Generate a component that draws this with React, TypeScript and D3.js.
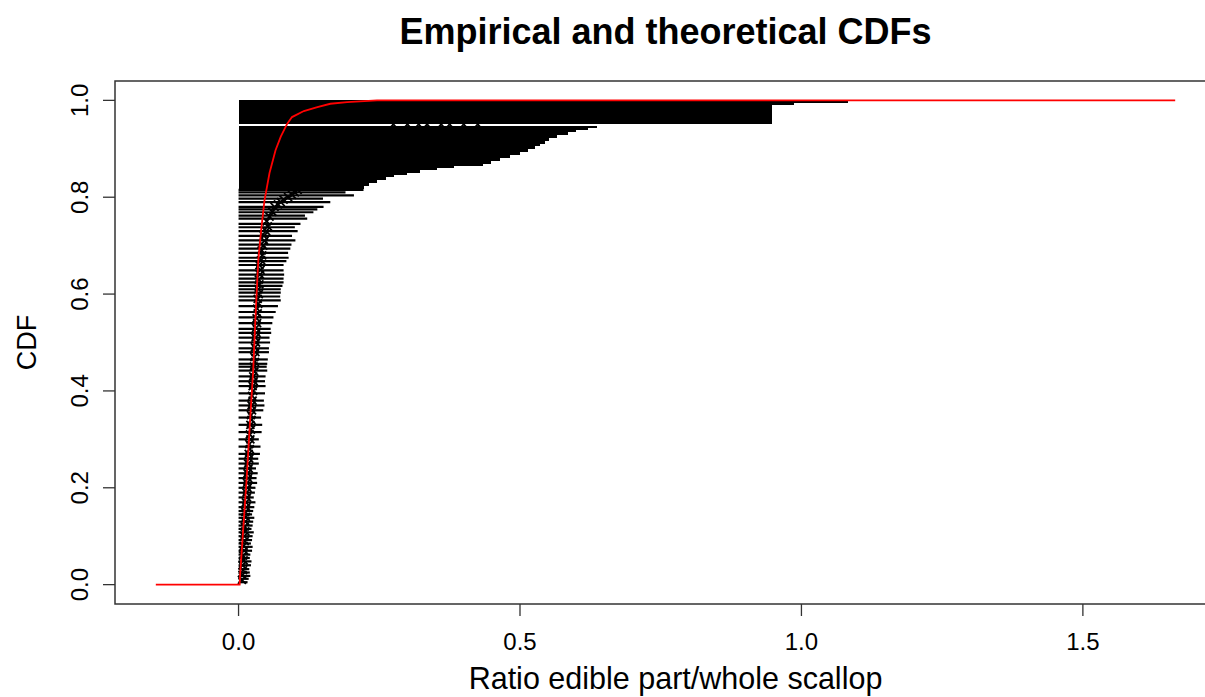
import * as d3 from "d3";

// theoretical (fitted) CDF
const fitX = [-0.147, 0.002, 0.0025, 0.008, 0.0142, 0.02, 0.026, 0.03, 0.035, 0.04, 0.046, 0.055, 0.0657, 0.075, 0.0865, 0.095, 0.116, 0.14, 0.163, 0.193, 0.246, 1.664];
const fitCdf = [0, 0, 0.015, 0.11, 0.215, 0.33, 0.442, 0.55, 0.669, 0.73, 0.793, 0.85, 0.897, 0.925, 0.952, 0.9655, 0.978, 0.986, 0.993, 0.9965, 1, 1];

// left-censored intervals [0, upper] in the lower part
const censCdf = [0.005, 0.012, 0.018, 0.025, 0.032, 0.04, 0.048, 0.055, 0.062, 0.07, 0.078, 0.085, 0.092, 0.1, 0.108, 0.115, 0.122, 0.13, 0.138, 0.145, 0.152, 0.16, 0.17, 0.18, 0.19, 0.2, 0.21, 0.22, 0.23, 0.24, 0.25, 0.26, 0.27, 0.285, 0.3, 0.315, 0.33, 0.345, 0.36, 0.37, 0.38, 0.395, 0.41, 0.42, 0.43, 0.442, 0.45, 0.456, 0.465, 0.48, 0.488, 0.5, 0.51, 0.52, 0.528, 0.54, 0.552, 0.563, 0.575, 0.587, 0.595, 0.603, 0.61, 0.617, 0.624, 0.632, 0.64, 0.649, 0.66, 0.668, 0.675, 0.685, 0.694, 0.702, 0.711, 0.72, 0.73, 0.738, 0.745, 0.756, 0.762, 0.769, 0.775, 0.78, 0.79, 0.797, 0.804, 0.81, 0.815];
const censUpper = [0.016, 0.018, 0.021, 0.02, 0.019, 0.022, 0.023, 0.02, 0.021, 0.024, 0.025, 0.022, 0.024, 0.025, 0.027, 0.023, 0.025, 0.026, 0.028, 0.024, 0.026, 0.028, 0.03, 0.027, 0.029, 0.03, 0.033, 0.032, 0.034, 0.031, 0.036, 0.035, 0.038, 0.039, 0.036, 0.041, 0.042, 0.04, 0.044, 0.046, 0.045, 0.047, 0.048, 0.047, 0.048, 0.051, 0.05, 0.051, 0.052, 0.054, 0.054, 0.056, 0.055, 0.058, 0.057, 0.06, 0.062, 0.066, 0.07, 0.075, 0.074, 0.075, 0.075, 0.078, 0.08, 0.08, 0.081, 0.08, 0.08, 0.085, 0.089, 0.088, 0.092, 0.094, 0.101, 0.095, 0.105, 0.1, 0.11, 0.122, 0.118, 0.133, 0.14, 0.151, 0.163, 0.15, 0.205, 0.19, 0.222];

// dense block of left-censored intervals near the top
const blockLo = [0.818, 0.824, 0.83, 0.836, 0.842, 0.847, 0.852, 0.857, 0.862, 0.866, 0.87, 0.876, 0.882, 0.888, 0.894, 0.9, 0.906, 0.912, 0.918, 0.924, 0.93, 0.935, 0.94, 0.944, 0.953, 0.992, 0.996];
const blockHi = [0.824, 0.83, 0.836, 0.842, 0.847, 0.852, 0.857, 0.862, 0.866, 0.87, 0.876, 0.882, 0.888, 0.894, 0.9, 0.906, 0.912, 0.918, 0.924, 0.93, 0.935, 0.94, 0.944, 0.948, 0.992, 0.996, 1.0];
const blockUpper = [0.222, 0.232, 0.246, 0.262, 0.276, 0.3, 0.323, 0.352, 0.382, 0.435, 0.448, 0.465, 0.482, 0.5, 0.515, 0.527, 0.536, 0.545, 0.552, 0.566, 0.585, 0.6, 0.62, 0.637, 0.948, 0.986, 1.083];

// non-censored observations
const exactCdf = [0.01, 0.02, 0.03, 0.04, 0.05, 0.06, 0.07, 0.08, 0.09, 0.1, 0.11, 0.12, 0.13, 0.14, 0.15, 0.16, 0.17, 0.18, 0.19, 0.2, 0.21, 0.22, 0.23, 0.24, 0.25, 0.26, 0.27, 0.28, 0.29, 0.3, 0.31, 0.32, 0.33, 0.34, 0.35, 0.36, 0.37, 0.38, 0.39, 0.4, 0.41, 0.42, 0.43, 0.44, 0.45, 0.46, 0.47, 0.48, 0.49, 0.5, 0.51, 0.52, 0.53, 0.54, 0.55, 0.56, 0.57, 0.58, 0.59, 0.6, 0.61, 0.62, 0.63, 0.64, 0.65, 0.66, 0.67, 0.68, 0.69, 0.7, 0.71, 0.72, 0.73, 0.74, 0.75, 0.76, 0.77, 0.78, 0.785, 0.79, 0.795, 0.8, 0.805, 0.81, 0.815, 0.9505, 0.9505, 0.9505, 0.9505, 0.9505, 0.9505, 0.9505, 0.9505];
const exactX = [0.006, 0.007, 0.008, 0.007, 0.009, 0.008, 0.01, 0.009, 0.011, 0.01, 0.012, 0.011, 0.012, 0.013, 0.012, 0.014, 0.013, 0.015, 0.014, 0.016, 0.015, 0.017, 0.016, 0.018, 0.017, 0.019, 0.018, 0.02, 0.019, 0.021, 0.02, 0.022, 0.021, 0.023, 0.022, 0.024, 0.023, 0.025, 0.024, 0.026, 0.025, 0.027, 0.026, 0.028, 0.027, 0.029, 0.028, 0.03, 0.029, 0.031, 0.03, 0.032, 0.031, 0.033, 0.032, 0.034, 0.033, 0.035, 0.034, 0.036, 0.035, 0.037, 0.036, 0.038, 0.039, 0.037, 0.04, 0.042, 0.041, 0.044, 0.046, 0.045, 0.049, 0.052, 0.05, 0.055, 0.06, 0.064, 0.07, 0.075, 0.08, 0.088, 0.095, 0.1, 0.105, 0.275, 0.3, 0.32, 0.335, 0.36, 0.375, 0.4, 0.425];

const xTicks = [0, 0.5, 1.0, 1.5];
const yTicks = [0, 0.2, 0.4, 0.6, 0.8, 1.0];

export default function App() {
  const width = 1205;
  const height = 697;
  const left = 115;
  const right = 1216;
  const top = 81;
  const bottom = 604;

  const x = d3.scaleLinear().domain([-0.2195, 1.7365]).range([left, right]);
  const y = d3.scaleLinear().domain([-0.04, 1.04]).range([bottom, top]);

  const fitLine = d3
    .line<number>()
    .x((d) => x(d))
    .y((_, i) => y(fitCdf[i]));

  const font = "Liberation Sans, Arial, sans-serif";
  const cx = (left + right) / 2;

  return (
    <svg
      width={width}
      height={height}
      style={{ position: "absolute", left: 0, top: 0, background: "#fff" }}
      fontFamily={font}
    >
      <text x={cx} y={44} textAnchor="middle" fontSize={36} fontWeight="bold">
        Empirical and theoretical CDFs
      </text>

      {/* block of intervals */}
      <g fill="#000" shapeRendering="crispEdges">
        {blockLo.map((lo, i) => (
          <rect
            key={i}
            x={x(0)}
            y={y(blockHi[i])}
            width={x(blockUpper[i]) - x(0)}
            height={y(lo) - y(blockHi[i]) + 0.6}
          />
        ))}
      </g>

      {/* lower intervals */}
      <g stroke="#000" strokeWidth={2.2}>
        {censCdf.map((c, i) => (
          <line key={i} x1={x(0)} x2={x(censUpper[i])} y1={y(c)} y2={y(c)} />
        ))}
      </g>

      {/* exact points as crosses */}
      <g stroke="#000" strokeWidth={1.8}>
        {exactCdf.map((c, i) => {
          const px = x(exactX[i]);
          const py = y(c);
          const s = 4;
          return (
            <path
              key={i}
              d={`M${px - s},${py - s}L${px + s},${py + s}M${px - s},${py + s}L${px + s},${py - s}`}
            />
          );
        })}
      </g>

      <path d={fitLine(fitX) ?? ""} fill="none" stroke="#ff0000" strokeWidth={1.8} />

      {/* box */}
      <rect x={left} y={top} width={right - left} height={bottom - top} fill="none" stroke="#333" strokeWidth={1.5} />

      {/* x axis */}
      <g stroke="#333" strokeWidth={1.3}>
        {xTicks.map((t) => (
          <line key={t} x1={x(t)} x2={x(t)} y1={bottom} y2={bottom + 12} />
        ))}
      </g>
      <g fontSize={24} textAnchor="middle">
        {xTicks.map((t) => (
          <text key={t} x={x(t)} y={650}>
            {d3.format(".1f")(t)}
          </text>
        ))}
      </g>
      <text x={cx + 10} y={689} textAnchor="middle" fontSize={30.5}>
        Ratio edible part/whole scallop
      </text>

      {/* y axis */}
      <g stroke="#333" strokeWidth={1.3}>
        {yTicks.map((t) => (
          <line key={t} x1={left - 12} x2={left} y1={y(t)} y2={y(t)} />
        ))}
      </g>
      <g fontSize={24} textAnchor="middle">
        {yTicks.map((t) => (
          <text key={t} transform={`translate(88,${y(t)}) rotate(-90)`}>
            {d3.format(".1f")(t)}
          </text>
        ))}
      </g>
      <text transform={`translate(36,${(top + bottom) / 2}) rotate(-90)`} textAnchor="middle" fontSize={27}>
        CDF
      </text>
    </svg>
  );
}
